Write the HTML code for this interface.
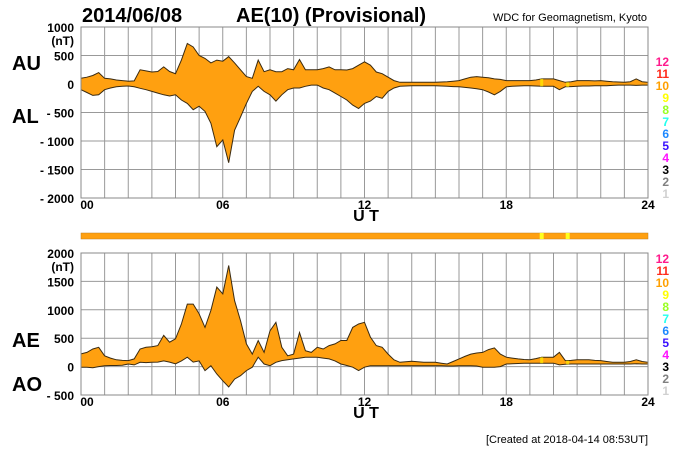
<!DOCTYPE html>
<html><head><meta charset="utf-8"><style>
body{margin:0;background:#fff;}
svg{display:block;font-family:"Liberation Sans",Arial,sans-serif;}
</style></head><body>
<svg id="chart" width="700" height="450" viewBox="0 0 700 450">
<rect width="700" height="450" fill="#fff"/>
<text x="82" y="22" font-size="20" font-weight="bold">2014/06/08</text>
<text x="236" y="22" font-size="20" font-weight="bold">AE(10) (Provisional)</text>
<text x="647" y="21" font-size="11" text-anchor="end">WDC for Geomagnetism, Kyoto</text>
<text x="12" y="70" font-size="20" font-weight="bold">AU</text>
<text x="12" y="123" font-size="20" font-weight="bold">AL</text>
<text x="12" y="347" font-size="20" font-weight="bold">AE</text>
<text x="12" y="391" font-size="20" font-weight="bold">AO</text>
<text x="648" y="443" font-size="11" text-anchor="end">[Created at 2018-04-14 08:53UT]</text>
<g id="top"></g><g id="bot"></g><g id="strip"></g><g id="legends"></g>
</svg>
<script>
const hours=[];for(let i=0;i<=96;i++)hours.push(i/4);
const au=[100,120,150,200,100,90,70,60,50,55,250,230,210,220,300,220,180,420,710,650,500,450,370,420,400,480,370,250,130,100,420,215,250,215,215,270,250,430,250,250,250,270,300,250,250,245,270,330,390,330,210,180,120,60,30,30,30,30,30,30,30,35,40,50,60,90,120,130,120,110,90,80,60,60,60,60,60,70,90,90,90,60,30,40,60,60,60,55,60,50,40,35,30,40,90,40,30];
const al=[-100,-150,-200,-190,-100,-70,-50,-40,-35,-50,-75,-100,-130,-160,-190,-210,-190,-280,-340,-450,-390,-480,-690,-1100,-980,-1380,-810,-580,-340,-130,-40,-130,-190,-300,-190,-100,-70,-70,-40,-20,-20,-70,-100,-160,-220,-280,-370,-430,-340,-300,-220,-250,-130,-70,-40,-35,-30,-30,-30,-30,-30,-35,-40,-45,-50,-60,-70,-85,-100,-140,-190,-130,-50,-40,-35,-30,-30,-35,-40,-40,-40,-100,-50,-45,-40,-35,-35,-30,-30,-30,-25,-20,-20,-20,-25,-20,-20];
const ae=[223,250,310,340,190,150,120,110,105,135,310,340,350,370,550,430,490,750,1100,1100,930,690,990,1400,1280,1780,1160,810,400,220,460,250,630,780,340,190,220,600,280,250,340,310,370,400,460,460,690,750,780,520,370,340,220,120,75,85,95,85,75,75,75,60,45,90,135,180,220,240,250,300,330,220,165,150,135,125,120,140,165,165,165,250,105,110,120,120,120,110,105,90,75,75,75,90,120,90,75];
const ao=[-10,-10,-20,0,15,20,20,25,45,30,75,70,75,80,100,80,50,100,165,80,100,-70,15,-130,-250,-360,-220,-160,-70,-10,165,45,15,75,105,120,135,150,165,165,165,150,135,100,45,20,-10,-70,-10,15,15,15,15,15,15,15,15,15,15,15,15,15,10,10,15,15,15,10,-10,-10,-10,0,45,50,55,60,60,60,60,60,60,30,40,45,45,45,45,45,45,45,45,45,45,45,50,45,45];
const topTicks=[1000,500,0,-500,-1000,-1500,-2000];
const botTicks=[2000,1500,1000,500,0,-500];
const xTicks=[0,6,12,18,24];
const legendNums=[12,11,10,9,8,7,6,5,4,3,2,1];
const legendCols=["#ff1a8c","#ff2a1a","#ffa000","#ffff00","#99ff22","#22ffee","#1e88ff","#3a10ff","#ff10ff","#000000","#808080","#d0d0d0"];
const yellowHours=[19.5,20.6];
const NS="http://www.w3.org/2000/svg";
const X0=81,X1=648;
const xs=h=>X0+(X1-X0)*h/24;
function mk(p,t,a){const e=document.createElementNS(NS,t);for(const k in a)e.setAttribute(k,a[k]);p.appendChild(e);return e;}
function panel(g,top,bottom,vmax,vmin,ticks,up,lo,nm){
  const ys=v=>top+(vmax-v)*(bottom-top)/(vmax-vmin);
  for(let h=0;h<=24;h++){const l=mk(g,'line',{x1:xs(h),x2:xs(h),y1:top,y2:bottom,stroke:'#999','stroke-width':1});
    }
  ticks.forEach(v=>{const l=mk(g,'line',{x1:X0,x2:X1,y1:ys(v),y2:ys(v),stroke:'#999','stroke-width':1});
    
    const t=mk(g,'text',{x:74,y:ys(v)+5,'font-size':12,'font-weight':'bold','text-anchor':'end'});
    t.textContent=(v<0?'- '+(-v):String(v));
    });
  const u=mk(g,'text',{x:74,y:ys(ticks[0])+18,'font-size':12,'font-weight':'bold','text-anchor':'end'});u.textContent='(nT)';
  
  let d='M'+hours.map((h,i)=>xs(h).toFixed(1)+','+ys(up[i]).toFixed(1)).join('L');
  d+='L'+hours.slice().reverse().map((h,j)=>xs(h).toFixed(1)+','+ys(lo[hours.length-1-j]).toFixed(1)).join('L')+'Z';
  const p=mk(g,'path',{d:d,fill:'#ffa010',stroke:'#3a2a10','stroke-width':1});
  
  yellowHours.forEach(h=>{const i=Math.round(h*4);const r=mk(g,'rect',{x:xs(h)-1.5,y:ys(up[i]),width:3,height:ys(lo[i])-ys(up[i]),fill:'#ffee00',opacity:0.7});
    });
  mk(g,'rect',{x:X0,y:top,width:X1-X0,height:bottom-top,fill:'none',stroke:'#888'});
  xTicks.forEach(h=>{const t=mk(g,'text',{x:xs(h)+(h==0?6:0),y:bottom+11,'font-size':12,'font-weight':'bold','text-anchor':'middle'});
    t.textContent=String(h).padStart(2,'0');});
  const ut=mk(g,'text',{x:366,y:bottom+23,'font-size':16,'font-weight':'bold','text-anchor':'middle'});ut.textContent='U T';
  
}
panel(document.getElementById('top'),27,198,1000,-2000,topTicks,au,al,'au-al-band');
panel(document.getElementById('bot'),253,395,2000,-500,botTicks,ae,ao,'ae-ao-band');
const st=document.getElementById('strip');
const sb=mk(st,'rect',{x:X0,y:233,width:X1-X0,height:6,fill:'#ffa010',stroke:'#c08020','stroke-width':0.5});

yellowHours.forEach(h=>{const r=mk(st,'rect',{x:xs(h)-2,y:233,width:4,height:6,fill:'#ffff20'});
  });
const lg=document.getElementById('legends');
[66,263].forEach(y0=>{legendNums.forEach((n,i)=>{const t=mk(lg,'text',{x:669,y:y0+i*12,'font-size':12,'font-weight':'bold','text-anchor':'end',fill:legendCols[i]});
  t.textContent=n;});});
</script>
</body></html>
